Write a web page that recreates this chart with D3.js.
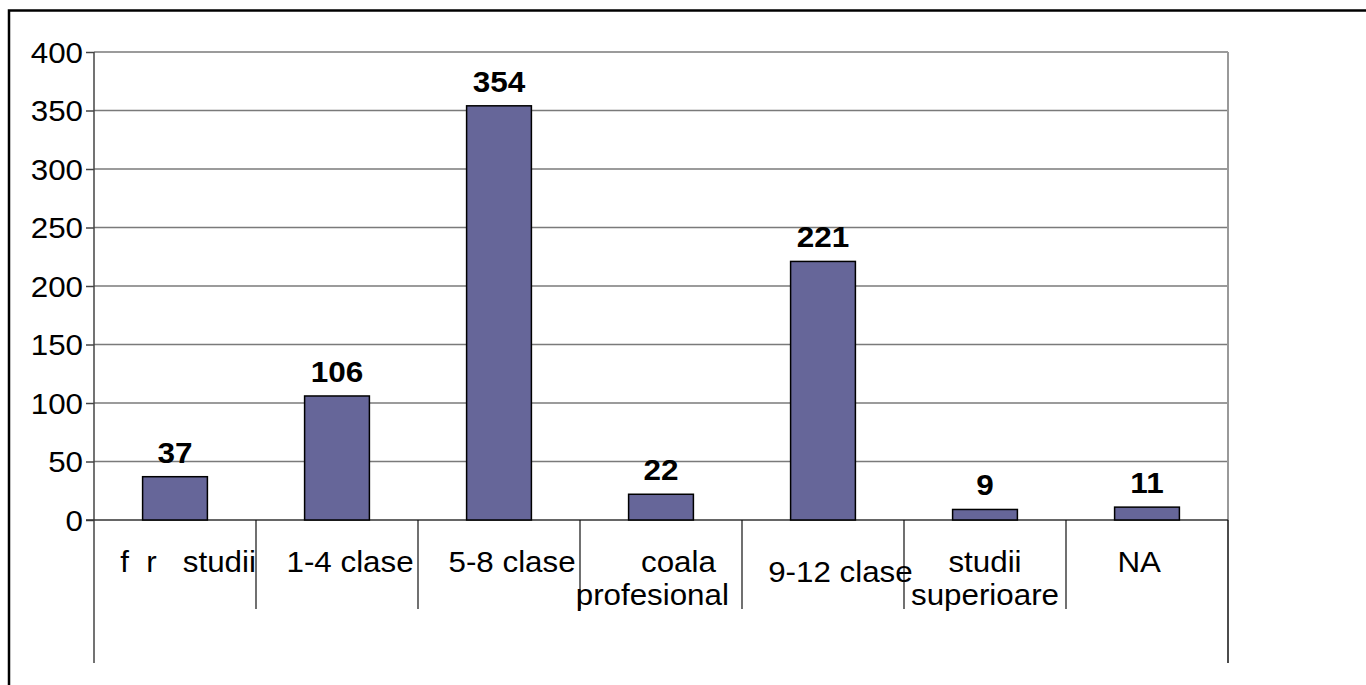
<!DOCTYPE html>
<html>
<head>
<meta charset="utf-8">
<script src="https://cdn.jsdelivr.net/npm/d3@7"></script>
<style>
  html, body { margin: 0; background: #fff; overflow: hidden; }
  svg { display: block; }
  text { font-family: "Liberation Sans", Arial, sans-serif; white-space: pre; }
</style>
</head>
<body>
<div class="chartDiv"></div>
<script>
"use strict"

// categories (two-line labels split with "\n"), values and y ticks
var categories = ["   f  r   studii", "   1-4 clase", "   5-8 clase", "    coala\nprofesional  ", "    9-12 clase", "studii\nsuperioare", "NA  "];
var values = [37, 106, 354, 22, 221, 9, 11];
var yTicks = [0, 50, 100, 150, 200, 250, 300, 350, 400];

var width = 1366;
var height = 685;
var margin = {left: 94, right: 138, top: 52, bottom: 165};
var stretch = 1.08;

var svg = d3.select(".chartDiv").append("svg")
    .attr("width", width)
    .attr("height", height);

// outer frame, runs off the right and bottom edges
svg.append("path")
    .attr("d", "M9,700 V10.5 H1400")
    .attr("fill", "none")
    .attr("stroke", "#000")
    .attr("stroke-width", 2.5);

var x = d3.scaleBand()
    .domain(categories)
    .range([margin.left, width - margin.right])
    .paddingInner(0)
    .paddingOuter(0);

var y = d3.scaleLinear()
    .domain([0, 400])
    .range([height - margin.bottom, margin.top]);

var plotRight = width - margin.right;

// gridlines
svg.append("g")
    .selectAll("line")
    .data(yTicks.slice(1))
    .enter()
    .append("line")
    .attr("x1", margin.left).attr("x2", plotRight)
    .attr("y1", function(d) { return y(d) })
    .attr("y2", function(d) { return y(d) })
    .attr("stroke", "#7a7a7a")
    .attr("stroke-width", 1.5);

// right border of plot area
svg.append("line")
    .attr("x1", plotRight).attr("x2", plotRight)
    .attr("y1", y(400)).attr("y2", y(0))
    .attr("stroke", "#999")
    .attr("stroke-width", 2);

// y axis
var yAxis = d3.axisLeft(y).tickValues(yTicks).tickSize(8).tickPadding(4).tickFormat(d3.format("d"));
var yAxisG = svg.append("g")
    .attr("transform", "translate(" + margin.left + ",0)")
    .call(yAxis);
yAxisG.select(".domain").remove();
yAxisG.selectAll(".tick line").attr("stroke", "#444").attr("stroke-width", 1.5);
yAxisG.selectAll(".tick text")
    .attr("font-size", 29)
    .attr("fill", "#000")
    .attr("font-family", "Liberation Sans, Arial, sans-serif")
    .attr("dy", "0.36em")
    .attr("transform", "scale(" + stretch + ",1)")
    .attr("x", -11 / stretch);

// axis line (left)
svg.append("line")
    .attr("x1", margin.left).attr("x2", margin.left)
    .attr("y1", y(400)).attr("y2", height - 22)
    .attr("stroke", "#444")
    .attr("stroke-width", 1.5);

// zero line
svg.append("line")
    .attr("x1", margin.left - 8).attr("x2", plotRight)
    .attr("y1", y(0)).attr("y2", y(0))
    .attr("stroke", "#333")
    .attr("stroke-width", 1.5);

// category separators
var seps = categories.slice(1).map(function(c) { return x(c) });
svg.append("g")
    .selectAll("line")
    .data(seps)
    .enter()
    .append("line")
    .attr("x1", function(d) { return d }).attr("x2", function(d) { return d })
    .attr("y1", y(0)).attr("y2", y(0) + 89)
    .attr("stroke", "#111")
    .attr("stroke-width", 1.2);

svg.append("line")
    .attr("x1", plotRight).attr("x2", plotRight)
    .attr("y1", y(0)).attr("y2", height - 22)
    .attr("stroke", "#111")
    .attr("stroke-width", 1.5);

// bars
var barW = x.bandwidth() * 0.4;
svg.append("g")
    .selectAll("rect")
    .data(values)
    .enter()
    .append("rect")
    .attr("x", function(d, i) { return x(categories[i]) + (x.bandwidth() - barW) / 2 })
    .attr("y", function(d) { return y(d) })
    .attr("width", barW)
    .attr("height", function(d) { return y(0) - y(d) })
    .attr("fill", "#666699")
    .attr("stroke", "#000")
    .attr("stroke-width", 1.5);

// value labels
svg.append("g")
    .selectAll("text")
    .data(values)
    .enter()
    .append("text")
    .attr("transform", function(d, i) { return "translate(" + (x(categories[i]) + x.bandwidth() / 2) + "," + (y(d) - 14) + ") scale(1.05,1)" })
    .attr("text-anchor", "middle")
    .attr("font-size", 30)
    .attr("font-weight", "bold")
    .text(function(d) { return d });

// category labels
svg.append("g")
    .selectAll("g")
    .data(categories)
    .enter()
    .append("g")
    .attr("transform", function(c) { return "translate(" + (x(c) + x.bandwidth() / 2) + "," + y(0) + ")" })
    .each(function(c)
    {
        var lines = c.split("\n");
        var g = d3.select(this);
        var base = lines.length > 1 ? 52 : (c.indexOf("9-12") >= 0 ? 62 : 52);
        lines.forEach(function(line, i)
        {
            g.append("text")
                .attr("transform", "translate(0," + (base + i * 33) + ") scale(" + stretch + ",1)")
                .attr("text-anchor", "middle")
                .attr("font-size", 29)
                .attr("fill", "#000")
                .text(line);
        });
    });
</script>
</body>
</html>
